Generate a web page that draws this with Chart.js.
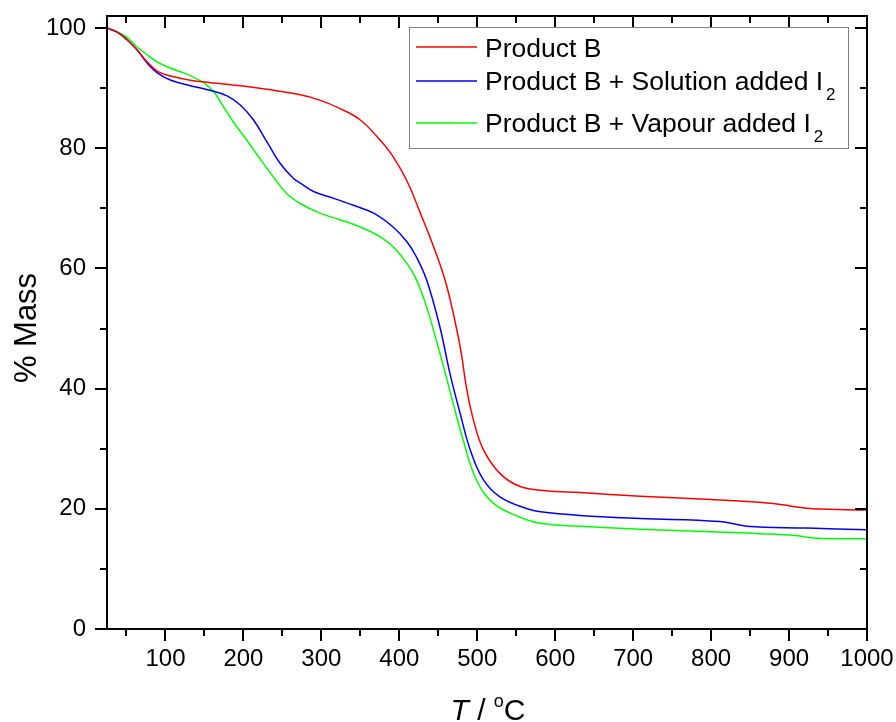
<!DOCTYPE html>
<html>
<head>
<meta charset="utf-8">
<script src="https://cdn.jsdelivr.net/npm/chart.js@4"></script>
<style>
  html, body { margin: 0; padding: 0; background: #fff; }
  #c { display: block; }
</style>
</head>
<body>
<canvas id="c" width="896" height="722"></canvas>
<script>
// TGA mass-loss curves (temperature in °C, remaining mass in %)
const redT   = [25, 38, 51, 64, 77, 90, 107, 132, 158, 196, 230, 273, 298, 324, 350, 375, 392, 410, 427, 444, 461, 478, 486, 495, 508, 529, 555, 589, 632, 709, 837, 880, 905, 931, 1000];
const redM   = [100, 99.3, 98.0, 96.3, 94.3, 92.8, 92.0, 91.3, 90.9, 90.4, 89.8, 88.9, 88.0, 86.6, 84.7, 81.4, 78.6, 74.5, 69.2, 63.6, 57.0, 47.0, 40.3, 34.8, 29.8, 25.9, 23.7, 23.0, 22.7, 22.1, 21.3, 20.9, 20.4, 20.0, 19.8];

const blueT  = [25, 38, 51, 64, 77, 90, 107, 132, 158, 179, 196, 213, 230, 247, 264, 273, 290, 315, 341, 367, 392, 410, 422, 435, 452, 465, 478, 491, 508, 529, 564, 581, 632, 709, 811, 846, 923, 1000];
const blueM  = [100, 99.3, 98.0, 96.3, 94.1, 92.5, 91.3, 90.4, 89.6, 88.7, 87.2, 84.7, 81.1, 77.5, 75.0, 74.2, 72.8, 71.7, 70.5, 69.2, 66.9, 64.4, 61.9, 58.1, 50.3, 42.5, 35.9, 29.8, 24.8, 22.0, 20.0, 19.5, 18.9, 18.4, 17.9, 17.1, 16.8, 16.5];

const greenT = [25, 38, 51, 64, 77, 90, 107, 124, 141, 149, 162, 170, 187, 204, 221, 238, 255, 273, 298, 324, 350, 375, 392, 410, 422, 435, 452, 469, 482, 499, 521, 555, 581, 632, 709, 837, 905, 935, 1000];
const greenM = [100, 99.4, 98.4, 96.8, 95.5, 94.3, 93.3, 92.5, 91.5, 90.9, 89.4, 87.8, 84.4, 81.4, 78.3, 75.3, 72.5, 70.8, 69.2, 68.1, 66.9, 65.3, 63.6, 60.8, 58.1, 53.6, 45.9, 37.6, 31.4, 24.8, 20.9, 18.6, 17.6, 17.1, 16.6, 16.0, 15.6, 15.1, 15.0];

const seriesNames = ['Product B', 'Product B + Solution added I', 'Product B + Vapour added I'];
const seriesSubs  = ['', '2', '2'];
const seriesColors = ['#ff0000', '#0000ff', '#00ff00'];

const xTicks      = [100, 200, 300, 400, 500, 600, 700, 800, 900, 1000];
const xMinorTicks = [50, 150, 250, 350, 450, 550, 650, 750, 850, 950];
const yTicks      = [0, 20, 40, 60, 80, 100];
const yMinorTicks = [10, 30, 50, 70, 90];

const FONT = '"Liberation Sans", Arial, sans-serif';

function pts(xs, ys) { return xs.map((x, i) => ({ x: x, y: ys[i] })); }

const datasets = [pts(redT, redM), pts(blueT, blueM), pts(greenT, greenM)].map((d, i) => ({
  label: seriesNames[i] + seriesSubs[i],
  data: d,
  borderColor: seriesColors[i],
  borderWidth: 1.5,
  pointRadius: 0,
  fill: false,
  tension: 0.4
}));

// Boxed frame with outward ticks on bottom/left and inward ticks on top/right
const framePlugin = {
  id: 'frame',
  afterDatasetsDraw(chart) {
    const { ctx, chartArea: a, scales: { x, y } } = chart;
    ctx.save();
    ctx.strokeStyle = '#000';
    ctx.lineWidth = 2;
    ctx.strokeRect(a.left, a.top, a.right - a.left, a.bottom - a.top);
    ctx.beginPath();
    const tick = (vals, len) => {
      vals.forEach(v => {
        const px = Math.round(x.getPixelForValue(v));
        ctx.moveTo(px, a.bottom); ctx.lineTo(px, a.bottom + len);
        ctx.moveTo(px, a.top);    ctx.lineTo(px, a.top + len);
      });
    };
    tick(xTicks, 12);
    tick(xMinorTicks, 7);
    const ytick = (vals, len) => {
      vals.forEach(v => {
        const py = Math.round(y.getPixelForValue(v));
        ctx.moveTo(a.left, py);  ctx.lineTo(a.left - len, py);
        ctx.moveTo(a.right, py); ctx.lineTo(a.right - len, py);
      });
    };
    ytick(yTicks, 12);
    ytick(yMinorTicks, 7);
    ctx.stroke();
    ctx.restore();
  }
};

// Legend box with subscripted labels
const legendPlugin = {
  id: 'boxLegend',
  afterDraw(chart) {
    const { ctx } = chart;
    const box = { l: 409.5, t: 27.5, r: 848.5, b: 148.5 };
    const rowY = [47, 81, 123];
    const baseY = [57, 90, 132];
    ctx.save();
    ctx.fillStyle = '#fff';
    ctx.fillRect(box.l, box.t, box.r - box.l, box.b - box.t);
    ctx.strokeStyle = '#808080';
    ctx.lineWidth = 1;
    ctx.strokeRect(box.l, box.t, box.r - box.l, box.b - box.t);
    seriesNames.forEach((name, i) => {
      ctx.strokeStyle = seriesColors[i];
      ctx.lineWidth = 1.3;
      ctx.beginPath();
      ctx.moveTo(416, rowY[i]);
      ctx.lineTo(477, rowY[i]);
      ctx.stroke();
      ctx.fillStyle = '#000';
      ctx.textBaseline = 'alphabetic';
      ctx.textAlign = 'left';
      ctx.font = '26.5px ' + FONT;
      ctx.fillText(name, 485, baseY[i]);
      if (seriesSubs[i]) {
        const w = ctx.measureText(name).width;
        ctx.font = '17px ' + FONT;
        ctx.fillText(seriesSubs[i], 485 + w + 3, baseY[i] + 10);
      }
    });
    ctx.restore();
  }
};

// Axis titles: "% Mass" and "T / °C" (italic T, superscript o)
const titlePlugin = {
  id: 'axisTitles',
  afterDraw(chart) {
    const { ctx } = chart;
    ctx.save();
    ctx.fillStyle = '#000';
    ctx.textBaseline = 'middle';
    ctx.textAlign = 'center';
    ctx.font = '31px ' + FONT;
    ctx.translate(27, 328);
    ctx.rotate(-Math.PI / 2);
    ctx.fillText('% Mass', 0, 0);
    ctx.restore();

    ctx.save();
    ctx.fillStyle = '#000';
    ctx.textBaseline = 'alphabetic';
    ctx.textAlign = 'left';
    const parts = [
      { t: 'T', f: 'italic 30px ' + FONT, dy: 0 },
      { t: ' / ', f: '30px ' + FONT, dy: 0 },
      { t: 'o', f: '18px ' + FONT, dy: -13 },
      { t: 'C', f: '30px ' + FONT, dy: 0 }
    ];
    let total = 0;
    parts.forEach(p => { ctx.font = p.f; p.w = ctx.measureText(p.t).width; total += p.w; });
    let cx = 488 - total / 2;
    const base = 720;
    parts.forEach(p => { ctx.font = p.f; ctx.fillText(p.t, cx, base + p.dy); cx += p.w; });
    ctx.restore();
  }
};

function zeroPad(s) {
  s.paddingTop = 0; s.paddingBottom = 0; s.paddingLeft = 0; s.paddingRight = 0;
}

new Chart(document.getElementById('c'), {
  type: 'line',
  data: { datasets: datasets },
  options: {
    responsive: false,
    animation: false,
    layout: { padding: { top: 16, right: 29, left: 0, bottom: 0 } },
    plugins: { legend: { display: false }, tooltip: { enabled: false } },
    scales: {
      x: {
        type: 'linear',
        min: 25,
        max: 1000,
        afterBuildTicks: s => { s.ticks = xTicks.map(v => ({ value: v })); },
        afterFit: s => { s.height = 93; zeroPad(s); },
        grid: { display: false, drawTicks: false },
        border: { display: false },
        ticks: { padding: 16, color: '#000', font: { family: FONT, size: 24 }, callback: v => String(v), maxRotation: 0, autoSkip: false }
      },
      y: {
        type: 'linear',
        min: 0,
        max: 102,
        afterBuildTicks: s => { s.ticks = yTicks.map(v => ({ value: v })); },
        afterFit: s => { s.width = 107; zeroPad(s); },
        grid: { display: false, drawTicks: false },
        border: { display: false },
        ticks: { padding: 21, color: '#000', font: { family: FONT, size: 24 }, callback: v => String(v), autoSkip: false }
      }
    }
  },
  plugins: [framePlugin, legendPlugin, titlePlugin]
});
</script>
</body>
</html>
